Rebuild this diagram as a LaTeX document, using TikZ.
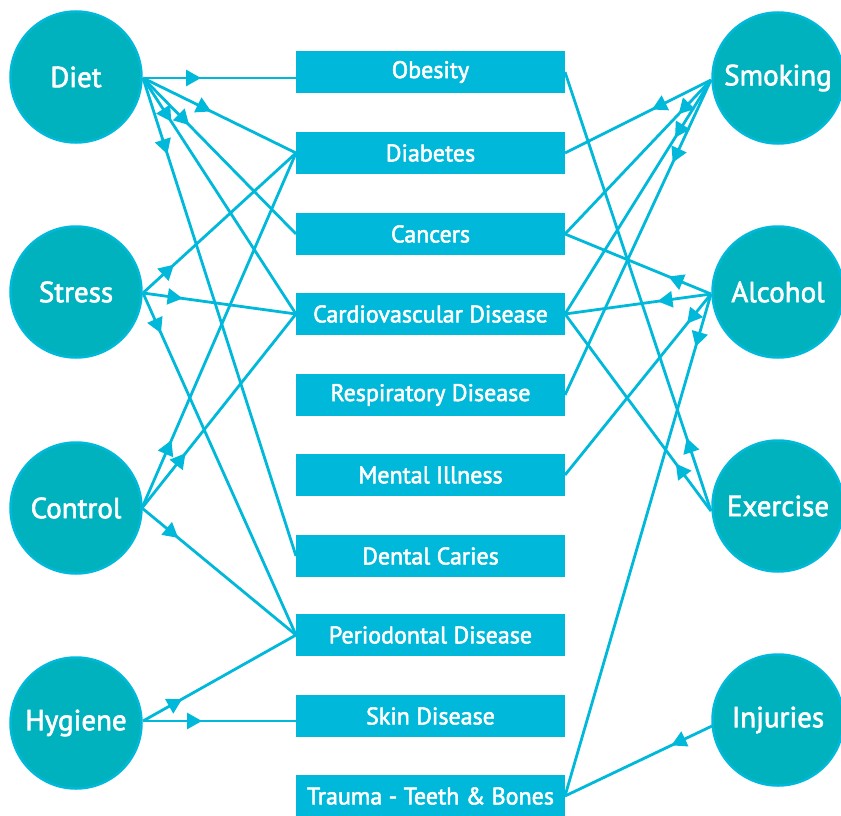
\documentclass[tikz,border=0pt]{standalone}
\usepackage{fontspec}
\setmainfont{PT Sans}
\newfontfamily\labelfont{PT Sans}[FakeBold=2.2]
\newfontfamily\boxfont{PT Sans}[FakeBold=2.2]
\usetikzlibrary{arrows.meta,decorations.markings}
\definecolor{teal}{HTML}{00B1BE}
\definecolor{ring}{HTML}{00B8D8}
\definecolor{boxc}{HTML}{00B8DA}
\tikzset{
  factor/.style={circle,fill=teal,draw=ring,line width=2.5pt,minimum size=131pt,inner sep=0pt,text=white,font=\labelfont\fontsize{29}{29}\selectfont},
  disease/.style={rectangle,fill=boxc,minimum width=269pt,minimum height=42pt,inner sep=0pt,text=white,font=\boxfont\fontsize{24}{24}\selectfont},
  link/.style={draw=boxc,line width=2.8pt},
  arr/.style={postaction={decorate,decoration={markings,mark=at position #1pt with {\arrow[boxc]{Triangle[length=15pt,width=16pt]}}}}}
}
\begin{document}
\begin{tikzpicture}[x=1pt,y=-1pt]
\useasboundingbox (0,0) rectangle (841,816);
% link end points
\coordinate (dE) at (143,78);
\coordinate (sE) at (143,293);
\coordinate (cE) at (142,508);
\coordinate (hE) at (143,721);
\coordinate (smW) at (711,80);
\coordinate (alW) at (711,294);
\coordinate (exW) at (711,511);
\coordinate (inW) at (712,726);
\coordinate (ob) at (296,72);
\coordinate (di) at (296,153);
\coordinate (ca) at (296,234);
\coordinate (cv) at (296,314);
\coordinate (de) at (296,556);
\coordinate (pe) at (296,635);
\coordinate (sk) at (296,716);
\coordinate (obR) at (565,72);
\coordinate (diR) at (565,153);
\coordinate (caR) at (565,234);
\coordinate (cvR) at (565,314);
\coordinate (reR) at (565,395);
\coordinate (meR) at (565,475);
\coordinate (trR) at (565,796);
\draw[link,arr=58] (dE) -- (dE -| ob);
\draw[link,arr=76] (dE) -- (di);
\draw[link,arr=66] (dE) -- (ca);
\draw[link,arr=52] (dE) -- (cv);
\draw[link,arr=80] (dE) -- (de);
\draw[link,arr=42] (sE) -- (di);
\draw[link,arr=40] (sE) -- (cv);
\draw[link,arr=44] (sE) -- (pe);
\draw[link,arr=74] (cE) -- (di);
\draw[link,arr=70] (cE) -- (cv);
\draw[link,arr=47] (cE) -- (pe);
\draw[link,arr=45] (hE) -- (pe);
\draw[link,arr=59] (hE) -- (hE -| sk);
\draw[link,arr=66] (smW) -- (diR);
\draw[link,arr=47] (smW) -- (caR);
\draw[link,arr=68] (smW) -- (cvR);
\draw[link,arr=91] (smW) -- (reR);
\draw[link,arr=46] (alW) -- (caR);
\draw[link,arr=54] (alW) -- (cvR);
\draw[link,arr=38] (alW) -- (meR);
\draw[link,arr=55] (alW) -- (trR);
\draw[link,arr=77] (exW) -- (obR);
\draw[link,arr=59] (exW) -- (cvR);
\draw[link,arr=45] (inW) -- (trR);
% circles
\node[factor] (diet) at (76,77) {Diet};
\node[factor] (stress) at (76,292) {Stress};
\node[factor] (control) at (76,508) {Control};
\node[factor] (hygiene) at (76,723) {Hygiene};
\node[factor] (smoking) at (778,78) {Smoking};
\node[factor] (alcohol) at (778,292) {Alcohol};
\node[factor] (exercise) at (778,506) {Exercise};
\node[factor] (injuries) at (778,720) {Injuries};
% boxes
\node[disease] (obesity) at (430.5,72) {Obesity};
\node[disease] (diabetes) at (430.5,153) {Diabetes};
\node[disease] (cancers) at (430.5,234) {Cancers};
\node[disease] (cardio) at (430.5,314) {Cardiovascular Disease};
\node[disease] (resp) at (430.5,395) {Respiratory Disease};
\node[disease] (mental) at (430.5,475) {Mental Illness};
\node[disease] (dental) at (430.5,556) {Dental Caries};
\node[disease] (perio) at (430.5,635) {Periodontal Disease};
\node[disease] (skin) at (430.5,716) {Skin Disease};
\node[disease] (trauma) at (430.5,796) {Trauma - Teeth \& Bones};
\end{tikzpicture}
\end{document}
